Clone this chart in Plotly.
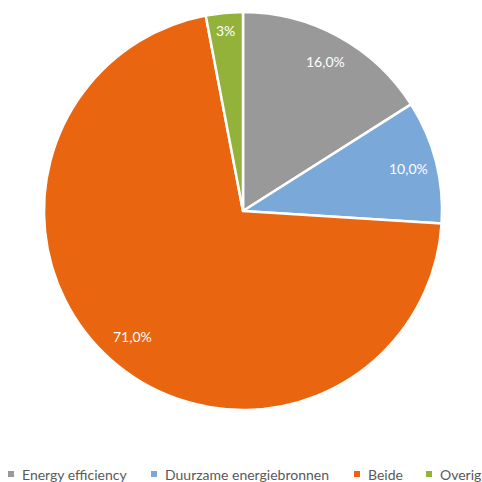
import math
import plotly.graph_objects as go

labels = ["Energy efficiency", "Duurzame energiebronnen", "Beide", "Overig"]
values = [16, 10, 71, 3]
text_labels = ["16,0%", "10,0%", "71,0%", "3%"]
colors = ["#999999", "#7AA8D8", "#E9650F", "#92B23A"]

W = H = 482
cx, cy, R = 243, 211, 199  # pie centre / radius in px (layout)
label_r = [0.86, 0.86, 0.84, 0.91]
legend_x = [11, 154, 357, 429]
legend_y = 474

fig = go.Figure(go.Pie(
    labels=labels, values=values, textinfo="none",
    sort=False, direction="clockwise", rotation=0,
    marker=dict(colors=colors, line=dict(color="white", width=2.5)),
    domain=dict(x=[(cx - R) / W, (cx + R) / W], y=[1 - (cy + R) / H, 1 - (cy - R) / H]),
    hoverinfo="label+percent", showlegend=False,
))

font = "Lato, Open Sans, sans-serif"
total = sum(values)
cum = 0
annotations = []
shapes = []
for i, (v, t) in enumerate(zip(values, text_labels)):
    mid = (cum + v / 2) / total * 2 * math.pi
    cum += v
    px = cx + label_r[i] * R * math.sin(mid)
    py = cy - label_r[i] * R * math.cos(mid)
    annotations.append(dict(x=px / W, y=1 - py / H, xref="paper", yref="paper",
                            text=t, showarrow=False, xanchor="center", yanchor="middle",
                            font=dict(family=font, size=14, color="white")))

for lab, col, lx in zip(labels, colors, legend_x):
    shapes.append(dict(type="rect", xref="paper", yref="paper",
                       x0=(lx - 3) / W, x1=(lx + 3) / W,
                       y0=1 - (legend_y + 3) / H, y1=1 - (legend_y - 3) / H,
                       fillcolor=col, line=dict(width=0)))
    annotations.append(dict(x=(lx + 9) / W, y=1 - legend_y / H, xref="paper", yref="paper",
                            text=lab, showarrow=False, xanchor="left", yanchor="middle",
                            font=dict(family=font, size=14, color="#595959")))

fig.update_layout(
    width=W, height=H, margin=dict(l=0, r=0, t=0, b=0),
    paper_bgcolor="white", plot_bgcolor="white",
    showlegend=False, annotations=annotations, shapes=shapes,
)
fig.write_html("out.html")
